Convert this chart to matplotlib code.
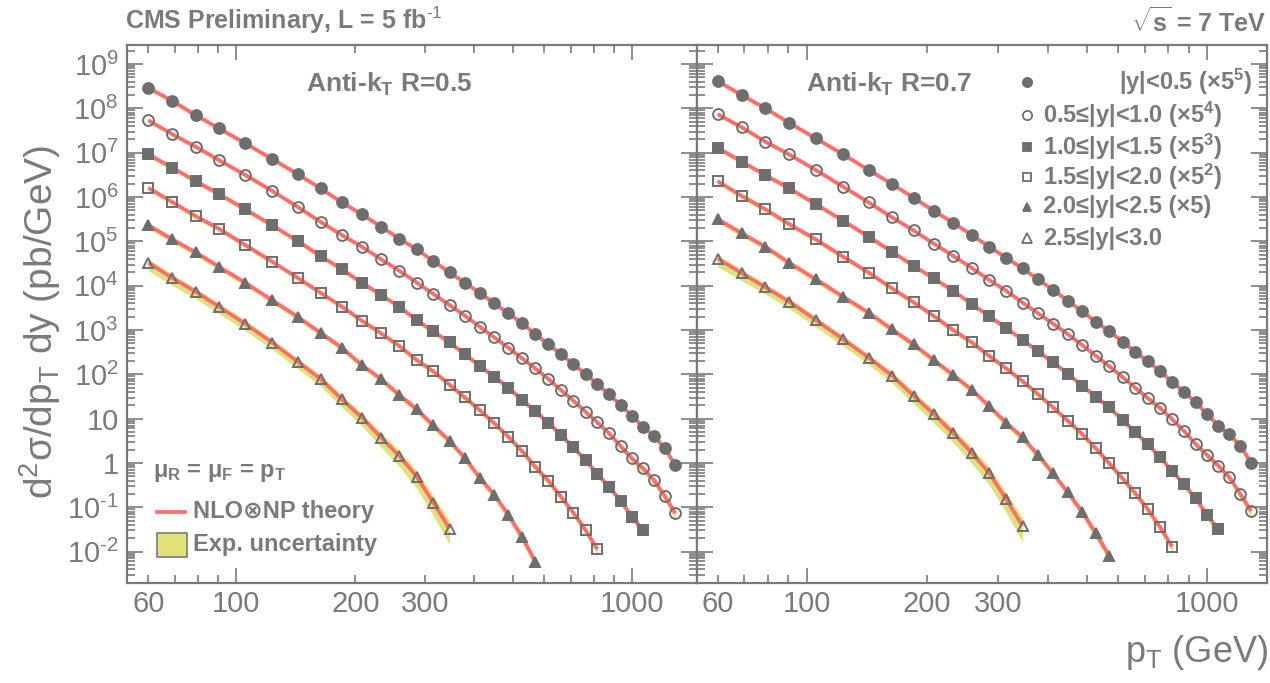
import numpy as np
import matplotlib
matplotlib.use("Agg")
import matplotlib.pyplot as plt
from matplotlib import font_manager
from matplotlib.ticker import FuncFormatter, LogLocator
from matplotlib.patches import Rectangle

# ---------------- data ----------------
# bin-centre pT values (GeV)
pt = [60, 69, 79, 90.5, 105.5, 123.5, 143, 163.5, 185, 208, 232.5, 258.5, 286,
      315, 346, 378.5, 412.5, 449, 487.5, 527.5, 570, 615, 662, 711.5, 763.5,
      818, 875.5, 936, 999.5, 1066.5, 1136.5, 1210, 1287.5]

# log10 of the plotted cross sections (pb/GeV, incl. scale factors), anti-kT R=0.5
r05_y0 = [8.466, 8.166, 7.85, 7.55, 7.212, 6.857, 6.519, 6.196, 5.88, 5.61, 5.33, 5.06,
          4.82, 4.557, 4.30, 4.067, 3.842, 3.602, 3.377, 3.151, 2.91, 2.677, 2.459,
          2.226, 2.008, 1.782, 1.55, 1.308, 1.067, 0.819, 0.616, 0.331, -0.045]
r05_y1 = [7.73, 7.42, 7.135, 6.835, 6.497, 6.136, 5.78, 5.44, 5.143, 4.879, 4.595, 4.338,
          4.07, 3.815, 3.564, 3.323, 3.075, 2.835, 2.60, 2.362, 2.136, 1.895, 1.647,
          1.406, 1.157, 0.918, 0.67, 0.383, 0.106, -0.12, -0.383, -0.744, -1.135]
r05_y2 = [6.963, 6.662, 6.361, 6.068, 5.723, 5.362, 5.008, 4.67, 4.37, 4.067, 3.79, 3.525,
          3.22, 2.97, 2.72, 2.455, 2.19, 1.947, 1.699, 1.421, 1.173, 0.909, 0.632,
          0.354, 0.068, -0.248, -0.534, -0.85, -1.21, -1.511]
r05_y3 = [6.21, 5.888, 5.572, 5.286, 4.918, 4.541, 4.18, 3.842, 3.53, 3.21, 2.926, 2.639,
          2.323, 2.07, 1.77, 1.478, 1.196, 0.90, 0.593, 0.271, -0.083, -0.399, -0.76,
          -1.121, -1.511, -1.947]
r05_y4 = [5.369, 5.046, 4.753, 4.428, 4.067, 3.67, 3.30, 2.939, 2.60, 2.21, 1.895, 1.534,
          1.214, 0.846, 0.503, 0.113, -0.33, -0.714, -1.173, -1.662, -2.226]
r05_y5 = [4.518, 4.173, 3.865, 3.526, 3.14, 2.714, 2.285, 1.895, 1.437, 1.022, 0.571,
          0.158, -0.309, -0.896, -1.482]

# anti-kT R=0.7
r07_y0 = [8.617, 8.301, 8.0, 7.676, 7.325, 6.963, 6.61, 6.294, 5.985, 5.688, 5.42, 5.143,
          4.879, 4.631, 4.392, 4.144, 3.903, 3.661, 3.42, 3.187, 2.97, 2.736, 2.51,
          2.29, 2.068, 1.834, 1.608, 1.365, 1.105, 0.842, 0.647, 0.39, 0.008]
r07_y1 = [7.873, 7.573, 7.248, 6.963, 6.61, 6.233, 5.88, 5.542, 5.248, 4.948, 4.673, 4.40,
          4.128, 3.887, 3.62, 3.377, 3.143, 2.906, 2.662, 2.417, 2.18, 1.94, 1.696,
          1.46, 1.24, 0.986, 0.722, 0.429, 0.18, -0.06, -0.323, -0.699, -1.083]
r07_y2 = [7.113, 6.797, 6.497, 6.196, 5.842, 5.466, 5.105, 4.767, 4.447, 4.166, 3.88, 3.587,
          3.308, 3.045, 2.782, 2.518, 2.27, 2.015, 1.744, 1.496, 1.252, 0.97, 0.692,
          0.422, 0.128, -0.18, -0.481, -0.797, -1.173, -1.496]
r07_y3 = [6.361, 6.023, 5.723, 5.391, 5.046, 4.654, 4.297, 3.941, 3.628, 3.316, 3.0, 2.723,
          2.414, 2.136, 1.85, 1.55, 1.256, 0.954, 0.654, 0.331, -0.008, -0.346, -0.684,
          -1.045, -1.45, -1.888]
r07_y4 = [5.504, 5.182, 4.879, 4.52, 4.148, 3.752, 3.391, 3.016, 2.677, 2.323, 1.985, 1.655,
          1.28, 0.909, 0.58, 0.18, -0.233, -0.662, -1.098, -1.587, -2.098]
r07_y5 = [4.61, 4.279, 3.963, 3.64, 3.226, 2.79, 2.375, 1.97, 1.518, 1.099, 0.67, 0.23,
          -0.233, -0.82, -1.421]

# experimental uncertainty (half width of band, in decades) per rapidity bin
unc_y0 = [0.05, 0.045, 0.045, 0.045, 0.045, 0.045, 0.045, 0.045, 0.045, 0.045, 0.045,
          0.045, 0.045, 0.045, 0.045, 0.045, 0.045, 0.045, 0.045, 0.045, 0.05, 0.05,
          0.05, 0.05, 0.05, 0.055, 0.055, 0.06, 0.06, 0.065, 0.07, 0.08, 0.09]
unc_y1 = [0.05, 0.045, 0.045, 0.045, 0.045, 0.045, 0.045, 0.045, 0.045, 0.045, 0.045,
          0.045, 0.045, 0.045, 0.045, 0.045, 0.045, 0.05, 0.05, 0.05, 0.05, 0.05,
          0.055, 0.055, 0.06, 0.06, 0.065, 0.07, 0.075, 0.08, 0.09, 0.1, 0.11]
unc_y2 = [0.055, 0.05, 0.05, 0.05, 0.05, 0.05, 0.05, 0.05, 0.05, 0.05, 0.05, 0.05, 0.05,
          0.05, 0.05, 0.05, 0.05, 0.055, 0.055, 0.055, 0.06, 0.06, 0.065, 0.065, 0.07,
          0.07, 0.075, 0.08, 0.085, 0.09]
unc_y3 = [0.06, 0.055, 0.055, 0.055, 0.055, 0.055, 0.055, 0.055, 0.055, 0.055, 0.055,
          0.06, 0.06, 0.06, 0.06, 0.065, 0.065, 0.07, 0.07, 0.075, 0.08, 0.08, 0.085,
          0.09, 0.095, 0.1]
unc_y4 = [0.07, 0.065, 0.065, 0.065, 0.065, 0.065, 0.065, 0.065, 0.065, 0.07, 0.07, 0.07,
          0.075, 0.075, 0.08, 0.08, 0.085, 0.09, 0.1, 0.11, 0.12]
unc_y5 = [0.15, 0.14, 0.13, 0.13, 0.13, 0.13, 0.13, 0.14, 0.15, 0.16, 0.18, 0.2, 0.22,
          0.25, 0.3]

legend_labels = [r"|y|<0.5 (×5$^{\mathbf{5}}$)",
                 r"0.5≤|y|<1.0 (×5$^{\mathbf{4}}$)",
                 r"1.0≤|y|<1.5 (×5$^{\mathbf{3}}$)",
                 r"1.5≤|y|<2.0 (×5$^{\mathbf{2}}$)",
                 "2.0≤|y|<2.5 (×5)",
                 "2.5≤|y|<3.0"]
xtick_labelled = [60, 100, 200, 300, 1000]

# ---------------- style ----------------
names = {f.name for f in font_manager.fontManager.ttflist}
NARROW = "Liberation Sans Narrow" if "Liberation Sans Narrow" in names else "Liberation Sans"
plt.rcParams["font.family"] = [NARROW, "DejaVu Sans"]
plt.rcParams["mathtext.fontset"] = "custom"
plt.rcParams["mathtext.rm"] = NARROW
plt.rcParams["mathtext.it"] = NARROW + ":italic"
plt.rcParams["mathtext.bf"] = NARROW + ":bold"
plt.rcParams["mathtext.sf"] = NARROW
plt.rcParams["axes.unicode_minus"] = False

GRAY = "#7a7a7a"
MGRAY = "#6e6e6e"
RED = "#ff6e6e"
YEL = "#e1e17a"

markers = [("o", True, 7.8), ("o", False, 7.8), ("s", True, 7.0),
           ("s", False, 7.3), ("^", True, 6.6), ("^", False, 7.8)]

fig = plt.figure(figsize=(12.7, 6.83), dpi=100)
axL = fig.add_axes([127 / 1270, 1 - 583 / 683, 570 / 1270, 538 / 683])
axR = fig.add_axes([697 / 1270, 1 - 583 / 683, 570 / 1270, 538 / 683], sharey=axL)

panels = [(axL, [r05_y0, r05_y1, r05_y2, r05_y3, r05_y4, r05_y5], (53.0, 1460.0)),
          (axR, [r07_y0, r07_y1, r07_y2, r07_y3, r07_y4, r07_y5], (53.3, 1410.0))]
uncs = [unc_y0, unc_y1, unc_y2, unc_y3, unc_y4, unc_y5]


def yfmt(v, p):
    e = int(round(np.log10(v)))
    if e == 0:
        return "1"
    if e == 1:
        return "10"
    if e < 0:
        return r"$10^{\text{-%d}}$" % (-e)
    return r"$10^{%d}$" % e


def xfmt(v, p):
    r = int(round(v))
    return str(r) if r in xtick_labelled else ""


for ax, series, xl in panels:
    ax.set_xscale("log")
    ax.set_yscale("log")
    for i, lg in enumerate(series):
        lg = np.asarray(lg)
        x = np.asarray(pt[:len(lg)])
        u = np.asarray(uncs[i])
        ax.fill_between(x, 10 ** (lg - 1.2 * u), 10 ** (lg + 0.6 * u), color=YEL, lw=0, zorder=1)
        ax.plot(x, 10 ** lg, color=RED, lw=2.7, zorder=2, solid_capstyle="butt")
        m, filled, ms = markers[i]
        ax.plot(x, 10 ** lg, ls="none", marker=m, ms=ms, mfc=MGRAY if filled else "none",
                mec=MGRAY, mew=1.4, zorder=3)
    ax.set_xlim(*xl)
    ax.set_ylim(1.96e-3, 2.69e9)
    for sp in ax.spines.values():
        sp.set_color(GRAY)
        sp.set_linewidth(1.6)
    ax.yaxis.set_major_locator(LogLocator(base=10, numticks=30))
    ax.yaxis.set_minor_locator(LogLocator(base=10, subs=np.arange(2, 10), numticks=30))
    ax.xaxis.set_major_locator(LogLocator(base=10, numticks=10))
    ax.xaxis.set_minor_locator(LogLocator(base=10, subs=np.arange(2, 10), numticks=10))
    ax.xaxis.set_major_formatter(FuncFormatter(xfmt))
    ax.xaxis.set_minor_formatter(FuncFormatter(xfmt))
    ax.yaxis.set_major_formatter(FuncFormatter(yfmt))
    ax.tick_params(which="both", direction="in", top=True, right=True, color=GRAY,
                   labelcolor=GRAY, width=1.2, labelsize=21)
    ax.tick_params(axis="y", which="major", length=11.5, pad=6)
    ax.tick_params(axis="y", which="minor", length=6)
    ax.tick_params(axis="x", which="major", length=11, pad=5)
    ax.tick_params(axis="x", which="minor", length=6, pad=5)

axR.tick_params(axis="y", which="both", labelleft=False)

# jet-algorithm labels
axL.text(0.314, 0.926, r"Anti-k$_{\mathbf{T}}$ R=0.5", transform=axL.transAxes,
         ha="left", va="center", fontsize=19, fontweight="bold", color=GRAY)
axR.text(0.191, 0.926, r"Anti-k$_{\mathbf{T}}$ R=0.7", transform=axR.transAxes,
         ha="left", va="center", fontsize=19, fontweight="bold", color=GRAY)

# rapidity legend (right panel)
row_y = [82, 115, 147, 177, 207, 238]
for i, lab in enumerate(legend_labels):
    yy = 1 - (row_y[i] - 45) / 538
    m, filled, ms = markers[i]
    axR.plot([0.579], [yy], transform=axR.transAxes, ls="none", marker=m, ms=ms * 0.85,
             mfc=MGRAY if filled else "none", mec=MGRAY, mew=1.3, clip_on=False)
    if i == 0:
        axR.text(0.974, yy, lab, transform=axR.transAxes, ha="right", va="center",
                 fontsize=17, fontweight="bold", color=GRAY)
    else:
        axR.text(0.607, yy, lab, transform=axR.transAxes, ha="left", va="center",
                 fontsize=17, fontweight="bold", color=GRAY)

# theory legend (left panel)
axL.text(0.046, 0.205, r"μ$_{\mathbf{R}}$ = μ$_{\mathbf{F}}$ = p$_{\mathbf{T}}$",
         transform=axL.transAxes, ha="left", va="center", fontsize=17,
         fontweight="bold", color=GRAY)
axL.plot([0.0526, 0.1018], [0.132, 0.132], transform=axL.transAxes, color=RED, lw=2.7)
axL.text(0.116, 0.132, "NLO⊗NP theory", transform=axL.transAxes, ha="left",
         va="center", fontsize=17, fontweight="bold", color=GRAY)
axL.add_patch(Rectangle((0.0526, 0.048), 0.053, 0.045, transform=axL.transAxes,
                        facecolor=YEL, edgecolor=GRAY, lw=1.2))
axL.text(0.116, 0.071, "Exp. uncertainty", transform=axL.transAxes, ha="left",
         va="center", fontsize=17, fontweight="bold", color=GRAY)

# header texts and axis titles
fig.text(125 / 1270, 1 - 20 / 683, r"CMS Preliminary, L = 5 fb$^{\mathbf{\text{-1}}}$",
         ha="left", va="center", fontsize=18, fontweight="bold", color=GRAY)
fig.text(1266 / 1270, 1 - 22 / 683, r"$\sqrt{\mathbf{s}}$ = 7 TeV",
         ha="right", va="center", fontsize=18, fontweight="bold", color=GRAY)
fig.text(40 / 1270, 1 - 322 / 683, r"d$^{2}$σ/dp$_{\mathrm{T}}$ dy (pb/GeV)", rotation=90,
         ha="center", va="center", fontsize=28, color=GRAY)
fig.text(1268 / 1270, 1 - 652 / 683, r"p$_{\mathrm{T}}$ (GeV)", ha="right", va="center",
         fontsize=26, color=GRAY)

fig.savefig("out.png", dpi=100)
